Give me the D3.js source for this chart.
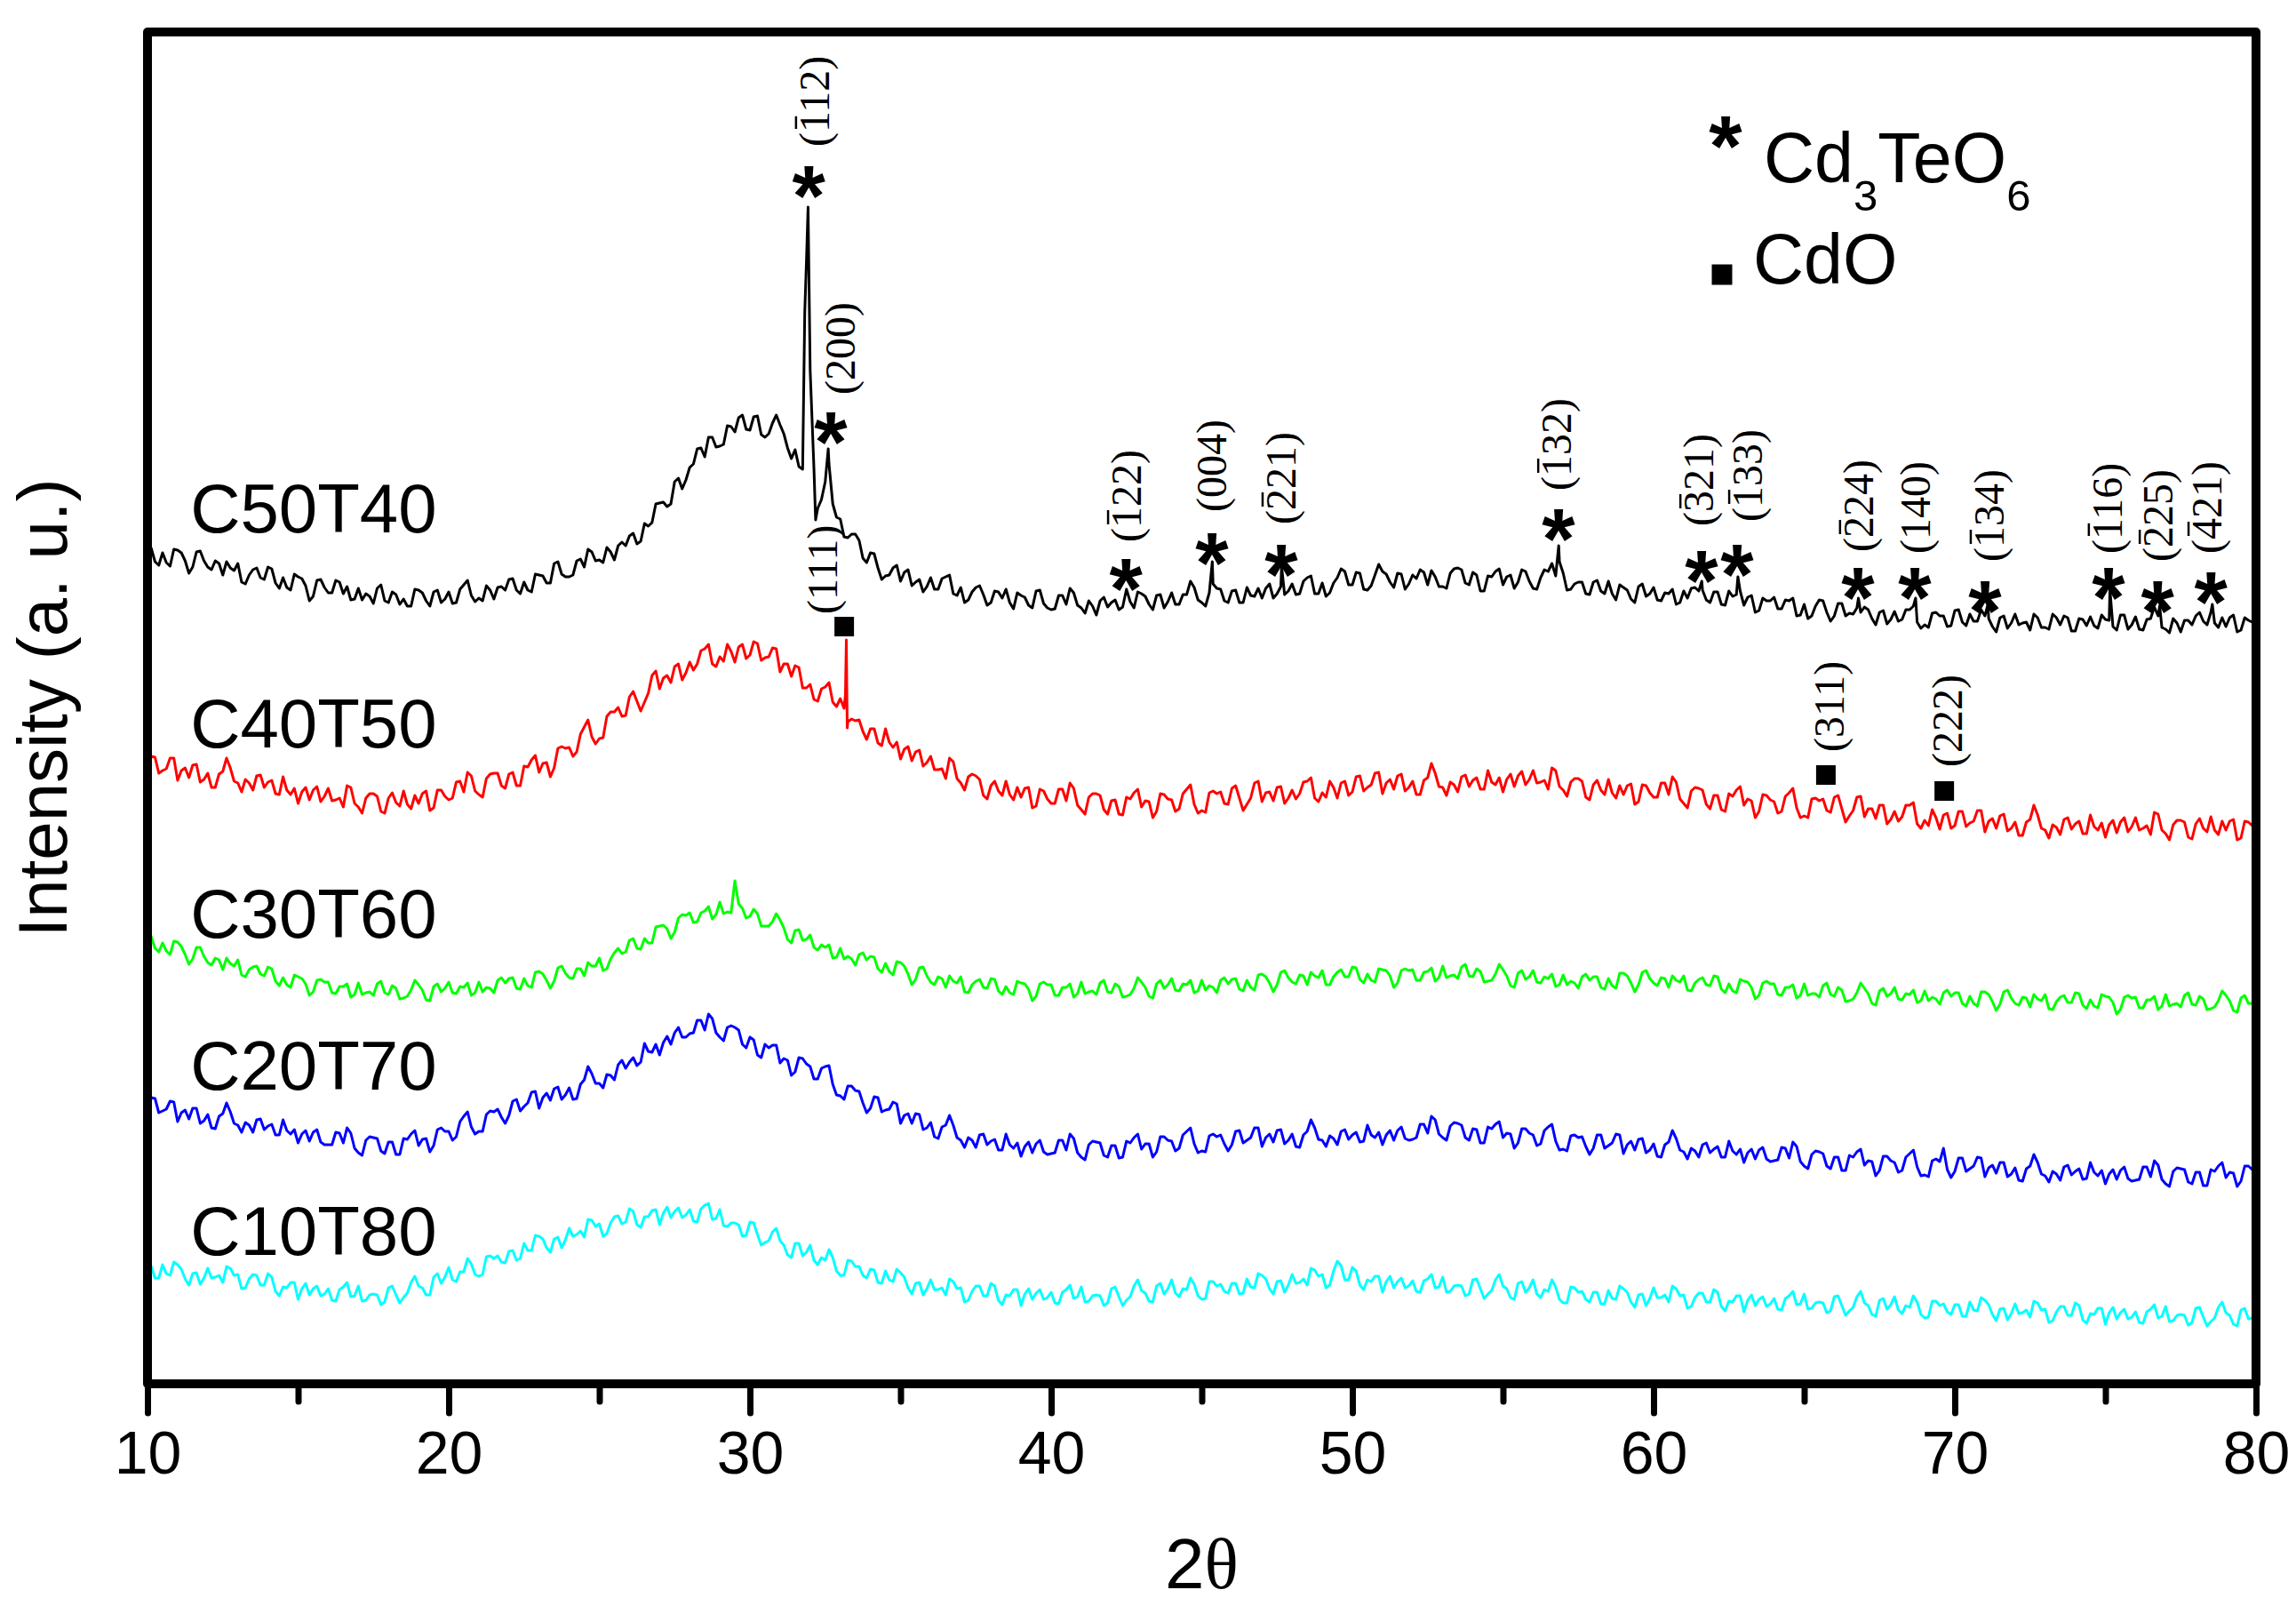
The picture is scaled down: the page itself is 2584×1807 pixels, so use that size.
<!DOCTYPE html>
<html>
<head>
<meta charset="utf-8">
<script src="https://cdnjs.cloudflare.com/ajax/libs/d3/7.8.5/d3.min.js"></script>
<style>
	body { margin: 0; background: #fff; }
	text { font-family: "Liberation Sans", Arial, sans-serif; fill: #000; }
	.hkl { font-family: "Liberation Serif", "Times New Roman", serif; font-size: 48px; }
	.star { font-family: "Liberation Sans", Arial, sans-serif; font-weight: bold; font-size: 96px; }
</style>
</head>
<body>
<div id="chart"></div>
<script>

//scan grid: 2theta from 10 to 80 every 0.125 deg (one row = one degree)
const thetaStart = 10;
const thetaStep = 0.125;

//sample names, colours and where their names sit (intensity units)
const sampleNames = ["C50T40", "C40T50", "C30T60", "C20T70", "C10T80"];
const sampleColors = ["#000000", "#ff0000", "#00ff00", "#0000ff", "#00ffff"];
const sampleLabelLevel = [958, 716, 502, 331, 145];

//intensities (a.u., already stacked)
const c50t40 = [
	941,940,925,921,935,924,920,939, 938,935,926,912,919,936,937,926, 919,916,926,923,910,925,918,915,
	923,902,900,910,916,918,907,905, 919,917,901,895,907,896,893,911, 908,906,898,881,886,904,905,896,
	890,890,904,902,889,897,882,883, 895,882,889,886,878,895,899,881, 879,891,888,877,883,875,875,894,
	893,890,881,875,891,893,879,883, 891,878,879,894,899,904,887,880, 884,881,898,893,883,896,897,893,
	905,906,893,889,902,893,891,911, 910,909,901,901,923,925,911,908, 908,910,926,928,919,939,936,926,
	927,924,941,936,927,943,947,943, 954,957,945,948,968,965,969,990, 991,992,987,990,1015,1019,1007,1017,
	1031,1035,1052,1053,1043,1065,1065,1054, 1055,1057,1078,1077,1071,1087,1090,1074, 1073,1088,1089,1068,1065,1069,1081,1090,
	1079,1069,1053,1041,1051,1032,1029,1262, 1140,1030,985,995,1015,1035,990,975, 973,953,952,956,956,949,929,924,
	935,934,918,905,909,910,918,921, 903,913,916,898,902,905,891,897, 907,894,894,906,908,910,889,887,
	896,879,882,891,896,898,888,876, 879,892,891,884,894,879,872,890, 887,885,876,873,892,893,878,873,
	871,872,887,887,877,895,890,876, 873,867,881,875,865,881,885,874, 879,882,871,874,894,880,873,891,
	889,886,877,871,887,888,873,880, 890,877,877,888,888,903,896,882, 879,875,890,900,895,894,881,879,
	892,893,879,879,896,887,886,895, 884,895,900,884,889,897,888,892, 900,888,889,903,907,909,889,889,
	901,886,890,901,907,917,914,899, 899,913,912,894,893,898,910,922, 914,911,902,896,912,911,894,900,
	910,906,916,913,899,915,908,897, 897,895,912,917,918,916,901,899, 913,910,892,892,909,908,914,917,
	899,908,910,895,902,916,914,903, 895,894,907,916,914,923,909,925, 912,893,894,900,902,902,889,888,
	902,904,892,889,903,889,882,899, 896,893,883,879,897,900,886,889, 896,882,881,890,889,894,877,879,
	892,884,895,896,892,893,882,879, 891,891,877,876,892,886,888,892, 876,885,887,868,870,884,881,881,
	885,872,872,882,881,884,864,865, 877,861,864,875,882,881,868,858, 864,878,878,864,867,866,873,868,
	874,871,861,854,868,870,855,860, 869,858,860,871,871,875,857,850, 854,851,867,868,864,864,852,853,
	870,871,857,853,866,858,858,871, 864,861,852,846,862,864,850,856, 866,854,856,857,848,866,862,851,
	851,849,866,862,854,864,862,847, 847,861,860,853,863,853,850,865, 860,859,852,848,865,865,849,854,
	863,849,848,860,861,874,864,851, 849,845,861,856,846,859,859,854, 864,868,858,854,868,856,851,862,
	852,862,865,846,848,862,859,857,
	858
];
const c50t40Peaks = [[31.82,1205],[31.93,1324],[32.18,972],[32.6,1052],[45.35,925],[47.65,920],
	[56.85,943],[61.6,903],[62.8,908],[66.8,884],[68.7,884],[71.1,877],[75.15,894],[76.8,875],[78.55,877]];

const c40t50 = [
	690,706,705,687,690,692,704,704, 679,690,693,682,696,697,677,680, 687,671,671,686,689,704,693,678,
	676,666,680,676,668,684,685,671, 677,679,664,663,683,668,663,670, 653,666,671,657,668,672,655,661,
	670,656,657,659,649,673,671,653, 649,642,659,664,664,661,644,642, 659,665,654,650,667,652,647,662,
	653,664,667,645,648,668,668,661, 657,659,677,678,666,688,684,667, 663,660,681,686,687,687,673,670,
	686,688,673,673,695,694,702,707, 688,698,699,683,693,715,717,715, 716,706,711,731,739,747,728,720,
	726,727,751,756,756,761,751,752, 773,779,768,757,767,777,797,802, 782,794,797,789,807,810,792,800,
	812,803,810,825,827,832,810,807, 818,813,832,824,812,829,832,816, 820,835,833,814,817,818,828,827,
	801,810,810,796,808,806,783,783, 787,770,768,782,784,789,767,762, 771,760,745,748,746,747,734,725,
	737,737,721,718,737,722,716,722, 703,714,717,701,711,713,695,699, 706,691,691,692,681,704,700,681,
	676,668,683,686,684,680,662,658, 673,678,667,662,678,663,657,671, 660,670,671,648,650,669,667,658,
	653,653,669,669,656,676,670,651, 646,641,660,664,664,662,646,641, 656,657,641,640,660,658,665,669,
	649,656,655,637,644,664,663,658, 657,644,647,664,669,674,652,642, 645,643,665,667,664,666,653,652,
	670,673,659,645,652,659,676,678, 655,665,666,656,671,672,653,659, 668,658,664,677,678,682,659,655,
	665,660,678,671,659,676,678,662, 666,683,684,667,671,674,687,688, 664,676,680,669,684,686,667,671,
	678,663,663,679,682,698,687,672, 671,662,677,674,666,683,685,672, 679,682,669,669,690,677,674,682,
	666,680,686,672,684,689,674,680, 690,676,677,679,669,693,690,672, 668,661,677,681,681,678,660,657,
	674,679,668,663,680,665,659,673, 663,673,675,652,655,674,673,665, 660,660,676,676,663,683,677,658,
	653,648,667,671,670,668,652,647, 662,662,646,644,664,661,668,672, 651,658,656,637,644,663,662,657,
	655,642,644,661,665,670,648,637, 639,637,658,659,656,658,645,643, 660,662,647,632,639,645,660,661,
	638,647,647,636,651,651,630,635, 644,633,638,651,651,654,630,625, 634,628,646,637,624,640,642,625,
	628,644,644,627,631,633,645,645, 621,633,636,625,639,641,622,625, 632,617,617,632,635,651,640,625,
	623,614,629,626,618,635,637,624, 630,633,619,619,640,627,623,631, 615,629,634,620,632,637,621,627,
	637,623,625,628,618,643,641,623, 619,612,629,634,634,632,615,613, 630,636,625,621,638,623,618,633,
	623,633,635,612,614,633,632,628,
	628
];
const c40t50Peaks = [[33.17,775],[33.2,837],[33.23,738]];

const c30t60 = [
	504,503,490,486,496,487,483,498, 497,492,483,472,478,491,491,481, 474,471,479,477,466,479,473,470,
	477,460,458,466,469,470,461,459, 469,467,453,448,457,449,446,460, 458,456,450,437,441,454,455,452,
	452,440,439,447,447,450,435,438, 451,438,440,441,437,450,453,440, 438,448,445,433,434,436,443,454,
	449,443,432,431,447,450,441,445, 452,440,439,447,446,451,437,440, 452,441,446,445,440,454,457,451,
	456,457,445,444,456,448,446,463, 464,461,454,445,453,468,470,462, 457,456,467,467,459,474,470,470,
	479,465,467,478,485,490,484,486, 499,501,490,489,501,496,496,514, 515,516,512,501,508,524,528,527,
	530,519,520,530,532,537,523,528, 542,529,531,530,566,540,535,524, 526,534,529,515,515,515,520,529,
	522,513,500,496,510,511,499,500, 505,491,488,494,491,494,479,480, 490,478,481,478,471,483,485,477,
	481,480,467,463,473,464,460,475, 474,470,461,449,455,468,469,459, 452,449,458,456,446,459,453,451,
	458,441,440,449,453,455,446,445, 456,455,442,438,447,440,438,453, 451,450,444,431,436,450,452,449,
	449,437,437,446,446,450,435,439, 452,439,441,442,438,451,454,441, 440,450,447,435,436,438,445,457,
	452,446,436,434,450,454,445,449, 456,443,442,450,449,454,440,442, 454,443,448,446,440,454,457,450,
	455,456,444,442,454,446,443,460, 461,458,451,441,449,463,465,457, 452,450,460,459,449,463,459,457,
	465,449,449,458,463,466,458,458, 469,468,455,451,461,454,452,467, 466,465,459,446,451,465,467,465,
	466,454,454,463,464,468,453,457, 470,457,459,460,456,469,472,459, 458,467,464,452,453,454,461,472,
	466,459,448,446,462,465,455,458, 465,452,451,458,456,461,447,449, 460,449,453,451,445,458,461,454,
	458,458,446,444,456,448,445,462, 462,459,451,441,449,463,465,456, 451,448,457,456,446,459,454,452,
	459,443,442,451,455,457,449,448, 459,458,444,440,450,442,440,455, 453,452,446,433,437,451,453,450,
	450,438,437,446,446,449,434,437, 450,437,439,439,435,448,451,438, 436,446,443,430,431,433,440,451,
	445,439,428,426,442,445,436,439, 446,433,432,439,438,443,429,431, 442,431,435,433,427,440,443,436,
	440,440,428,425,436,428,425,441, 441,438,430,420,427,441,443,434, 428,426,435,434,424,438,433,431,
	438,422,421,430,435,437,429,429, 440,439,426,422,432,425,423,438, 436,435,429,416,421,435,437,434,
	435,423,423,432,432,436,421,425, 438,425,427,428,424,437,440,427, 426,436,433,421,422,424,431,442,
	437,431,420,418,434,437,428,428,
	432
];

const c20t70 = [
	308,322,321,305,307,309,318,317, 295,305,308,298,310,310,293,296, 303,288,287,301,304,316,306,293,
	291,283,294,291,283,297,298,286, 290,292,280,280,297,285,281,286, 271,281,285,273,283,286,272,269,
	269,269,283,282,271,288,282,265, 260,257,274,278,277,276,262,259, 272,272,258,258,276,275,281,285,
	268,275,276,261,268,286,288,284, 284,274,278,295,301,306,289,281, 284,284,303,307,306,309,300,293,
	302,318,320,307,312,316,328,329, 310,322,327,319,332,334,320,325, 333,320,321,337,342,357,349,338,
	338,333,348,347,342,359,364,355, 362,367,358,362,383,374,373,382, 370,384,391,382,395,401,390,390,
	394,395,409,409,398,416,411,395, 390,386,401,403,401,398,382,378, 390,387,370,367,382,378,381,381,
	361,366,364,347,351,367,366,360, 357,343,343,355,357,358,337,325, 324,320,335,335,330,329,316,305,
	310,323,322,306,308,309,317,315, 293,302,304,293,304,303,286,288, 294,278,276,289,291,302,291,277,
	274,266,277,274,266,280,281,269, 273,275,263,263,281,269,265,271, 256,267,272,260,270,274,261,258,
	259,260,274,274,263,281,276,260, 255,252,269,273,272,271,257,255, 268,268,254,255,273,271,277,281,
	264,270,270,255,261,278,278,274, 273,262,265,280,284,288,270,260, 262,261,279,281,278,280,270,262,
	269,284,285,271,274,277,288,288, 267,277,281,272,285,286,270,274, 281,267,266,280,284,297,288,275,
	274,267,279,276,269,284,286,275, 280,283,272,273,291,280,277,283, 269,280,285,274,285,289,276,274,
	275,277,292,292,282,301,297,281, 277,274,290,294,293,291,277,274, 287,286,271,271,289,287,292,295,
	277,282,281,265,271,287,287,282, 280,268,270,285,289,292,273,263, 264,262,279,280,277,278,267,258,
	265,280,280,265,268,271,281,280, 259,269,273,263,275,276,260,263, 270,256,255,269,272,285,276,263,
	261,253,265,262,255,269,271,260, 264,267,255,255,273,262,258,264, 249,260,264,253,263,266,253,250,
	251,252,266,265,254,272,267,250, 245,242,258,262,261,259,245,242, 255,255,240,240,257,255,261,264,
	246,251,250,234,240,256,256,251, 249,238,240,255,259,263,244,234, 235,233,251,253,250,265,241,232,
	239,254,254,239,242,245,255,254, 233,243,246,237,249,249,233,236, 243,229,228,242,245,258,249,236,
	234,227,239,236,229,244,246,235, 239,242,230,231,249,238,234,240, 225,236,241,230,240,244,231,228,
	229,230,244,244,233,251,246,230, 225,222,239,243,242,241,227,225, 238,238,223,223,241,239,245,249,
	232,238,237,222,228,245,245,241,
	240
];

const c10t80 = [
	133,132,119,119,134,124,122,137, 134,129,118,111,124,125,112,119, 130,119,120,122,114,132,130,122,
	123,107,108,118,123,122,111,111, 124,120,104,99,109,108,114,114, 95,107,113,100,107,110,99,101,
	107,94,93,106,109,114,98,99, 110,93,94,100,101,100,89,92, 108,110,100,91,97,102,114,121,
	110,108,100,100,120,124,113,120, 131,117,115,126,126,141,135,123, 121,123,143,144,141,144,137,136,
	149,150,139,141,158,150,150,167, 166,163,153,148,163,165,153,162, 175,166,168,172,165,185,184,177,
	180,166,169,181,188,189,180,182, 197,194,179,176,188,188,195,196, 179,192,199,187,194,198,187,190,
	196,183,182,197,201,203,185,186, 196,178,177,181,181,179,166,167, 182,181,168,156,159,161,171,175,
	161,156,145,142,158,158,144,148, 156,139,134,142,139,151,142,127, 122,122,139,138,132,132,122,119,
	129,128,114,113,127,117,115,129, 125,120,108,101,113,114,100,107, 117,106,106,108,100,118,115,107,
	108,92,94,104,110,110,99,99, 113,110,94,89,100,99,106,106, 88,101,107,95,102,106,95,97,
	103,91,90,103,106,111,96,98, 109,92,93,99,100,99,88,91, 107,109,98,88,94,98,110,117,
	105,102,93,92,110,113,101,107, 117,102,98,107,106,119,112,99, 95,96,115,115,110,112,104,102,
	113,113,101,102,118,109,108,124, 122,118,107,101,115,116,103,111, 123,113,114,118,111,130,128,121,
	123,108,111,127,138,133,117,117, 131,127,111,106,117,115,121,121, 103,115,121,108,115,119,108,110,
	116,104,103,116,118,123,108,109, 120,103,104,110,111,110,99,101, 117,118,107,96,101,105,117,123,
	110,107,97,95,113,115,103,108, 117,101,97,106,104,117,109,95, 91,91,109,108,103,104,95,92,
	103,103,90,90,105,96,95,110, 107,103,92,86,100,101,88,96, 108,97,97,100,92,110,107,99,
	100,85,87,97,102,102,92,92, 106,103,87,82,93,92,99,99, 81,94,100,88,95,98,87,90,
	96,84,83,96,99,104,89,90, 101,84,85,91,92,91,80,82, 98,99,88,77,82,86,98,104,
	91,88,78,76,94,96,84,89, 98,83,79,88,86,99,92,78, 74,75,93,93,88,90,81,78,
	89,89,76,76,92,83,82,97, 94,89,78,71,84,85,72,79, 90,79,80,83,75,93,91,83,
	84,69,71,81,87,87,77,77, 91,88,72,68,79,78,85,85, 67,80,86,73,80,84,73,75,
	81,69,68,81,84,89,74,76, 87,70,71,77,78,77,66,69, 85,86,75,65,70,74,86,92,
	80,77,67,65,83,85,73,74,
	79
];

//reflections: marker at (t, v), rotated label starting at (lt, lv); "-" = bar over next digit
const cd3TeO6Peaks = [
	{hkl: "-112", t: 31.95, v: 1358, lt: 32.12, lv: 1392},
	{hkl: "200",  t: 32.68, v: 1081, lt: 32.98, lv: 1113},
	{hkl: "-122", t: 42.48, v: 916,  lt: 42.48, lv: 947},
	{hkl: "004",  t: 45.34, v: 945,  lt: 45.31, lv: 981},
	{hkl: "-221", t: 47.64, v: 932,  lt: 47.61, lv: 967},
	{hkl: "-132", t: 56.84, v: 972,  lt: 56.76, lv: 1005},
	{hkl: "-321", t: 61.59, v: 925,  lt: 61.48, lv: 965},
	{hkl: "-133", t: 62.77, v: 932,  lt: 63.10, lv: 970},
	{hkl: "-224", t: 66.78, v: 906,  lt: 66.78, lv: 936},
	{hkl: "140",  t: 68.67, v: 906,  lt: 68.67, lv: 934},
	{hkl: "-134", t: 71.00, v: 891,  lt: 71.12, lv: 925},
	{hkl: "-116", t: 75.10, v: 906,  lt: 75.04, lv: 934},
	{hkl: "-225", t: 76.73, v: 891,  lt: 76.73, lv: 925},
	{hkl: "-421", t: 78.50, v: 901,  lt: 78.35, lv: 934}
];
const cdoPeaks = [
	{hkl: "111", t: 33.13, v: 852, lt: 32.39, lv: 866},
	{hkl: "311", t: 65.72, v: 685, lt: 65.81, lv: 711},
	{hkl: "222", t: 69.65, v: 667, lt: 69.73, lv: 694}
];

const xTicks = [10, 20, 30, 40, 50, 60, 70, 80];
const xMinorTicks = [15, 25, 35, 45, 55, 65, 75];

const width = 2584, height = 1807;
const margin = {top: 36, right: 45, bottom: 250, left: 166};

function toPoints(values, peaks){
	let pts = values.map((v, i) => ({t: thetaStart + i * thetaStep, v: v}));
	(peaks || []).forEach(p => pts.push({t: p[0], v: p[1]}));
	return pts.sort((a, b) => a.t - b.t);
}

function buildXrdChart(parentID){

	let svg = d3.select(`#${parentID}`).append('svg')
		.attr('width', width)
		.attr('height', height)
		.style('display', 'block');

	//scales
	let xScale = d3.scaleLinear()
		.domain([10, 80])
		.range([margin.left, width - margin.right]);

	let yScale = d3.scaleLinear()
		.domain([0, 1521])
		.range([height - margin.bottom, margin.top]);

	let line = d3.line()
		.x(d => xScale(d.t))
		.y(d => yScale(d.v));

	let series = [
		toPoints(c50t40, c50t40Peaks),
		toPoints(c40t50, c40t50Peaks),
		toPoints(c30t60),
		toPoints(c20t70),
		toPoints(c10t80)
	];

	//patterns
	svg.append('g').attr('class', 'patterns')
		.selectAll('path')
		.data(series)
		.join('path')
		.attr('d', line)
		.attr('fill', 'none')
		.attr('stroke', (d, i) => sampleColors[i])
		.attr('stroke-width', 3)
		.attr('stroke-linejoin', 'round');

	//sample names
	svg.append('g').selectAll('text')
		.data(sampleNames)
		.join('text')
		.attr('x', xScale(11.42))
		.attr('y', (d, i) => yScale(sampleLabelLevel[i]))
		.style('font-size', '78px')
		.text(d => d);

	//Cd3TeO6 stars
	svg.append('g').selectAll('text')
		.data(cd3TeO6Peaks)
		.join('text')
		.attr('class', 'star')
		.attr('x', d => xScale(d.t))
		.attr('y', d => yScale(d.v))
		.attr('dy', '0.56em')
		.attr('text-anchor', 'middle')
		.text('*');

	//CdO squares
	let sq = d3.symbol(d3.symbolSquare, 22 * 22);
	svg.append('g').selectAll('path')
		.data(cdoPeaks)
		.join('path')
		.attr('d', sq)
		.attr('transform', d => `translate(${xScale(d.t)},${yScale(d.v)})`)
		.attr('fill', '#000');

	//Miller indices, rotated, with a bar over negative index
	let hklG = svg.append('g').selectAll('g')
		.data(cd3TeO6Peaks.concat(cdoPeaks))
		.join('g')
		.attr('transform', d => `translate(${xScale(d.lt)},${yScale(d.lv)}) rotate(-90)`);

	hklG.each(function(d){
		let g = d3.select(this);
		let txt = g.append('text')
			.attr('class', 'hkl')
			.attr('dy', '0.35em')
			.text('(' + d.hkl.replace('-', '') + ')');
		if (d.hkl[0] === '-') {
			let box = txt.node().getExtentOfChar(1);
			g.append('line')
				.attr('x1', box.x + 4)
				.attr('x2', box.x + box.width - 4)
				.attr('y1', -20)
				.attr('y2', -20)
				.attr('stroke', '#000')
				.attr('stroke-width', 2.5);
		}
	});

	//axes: major + minor ticks outward at the bottom
	let axisY = height - margin.bottom;
	let major = svg.append('g')
		.attr('transform', `translate(0,${axisY})`)
		.call(d3.axisBottom(xScale).tickValues(xTicks).tickSize(33).tickSizeOuter(0).tickPadding(20));
	let minor = svg.append('g')
		.attr('transform', `translate(0,${axisY})`)
		.call(d3.axisBottom(xScale).tickValues(xMinorTicks).tickSize(20).tickSizeOuter(0).tickFormat(''));

	[major, minor].forEach(a => {
		a.select('.domain').remove();
		a.selectAll('line').attr('stroke', '#000').attr('stroke-width', 7).attr('stroke-linecap', 'round');
	});
	major.selectAll('text')
		.style('font-family', '"Liberation Sans", Arial, sans-serif')
		.style('font-size', '68px')
		.attr('fill', '#000');

	//frame
	svg.append('rect')
		.attr('x', margin.left)
		.attr('y', margin.top)
		.attr('width', width - margin.left - margin.right)
		.attr('height', height - margin.top - margin.bottom)
		.attr('fill', 'none')
		.attr('stroke', '#000')
		.attr('stroke-width', 10)
		.attr('stroke-linejoin', 'round');

	//axis titles
	let xTitle = svg.append('text')
		.attr('x', (margin.left + width - margin.right) / 2)
		.attr('y', 1787)
		.attr('text-anchor', 'middle')
		.style('font-size', '80px');
	xTitle.append('tspan').text('2');
	xTitle.append('tspan').style('font-family', '"Liberation Serif", serif').text('θ');

	svg.append('text')
		.attr('transform', `translate(75,${(margin.top + axisY) / 2}) rotate(-90)`)
		.attr('text-anchor', 'middle')
		.style('font-size', '78px')
		.text('Intensity (a. u.)');

	//legend
	let legend = svg.append('g').attr('class', 'legend');
	legend.append('text')
		.attr('class', 'star')
		.attr('x', 1942)
		.attr('y', 143)
		.attr('dy', '0.56em')
		.attr('text-anchor', 'middle')
		.text('*');
	let formula = legend.append('text')
		.attr('x', 1985)
		.attr('y', 205)
		.style('font-size', '79px');
	formula.append('tspan').text('Cd');
	formula.append('tspan').attr('dy', 32).style('font-size', '49px').text('3');
	formula.append('tspan').attr('dy', -32).text('TeO');
	formula.append('tspan').attr('dy', 32).style('font-size', '49px').text('6');

	legend.append('path')
		.attr('d', d3.symbol(d3.symbolSquare, 23 * 23))
		.attr('transform', 'translate(1938,309)')
		.attr('fill', '#000');
	legend.append('text')
		.attr('x', 1973)
		.attr('y', 319)
		.style('font-size', '79px')
		.text('CdO');
}

buildXrdChart('chart');
</script>
</body>
</html>
